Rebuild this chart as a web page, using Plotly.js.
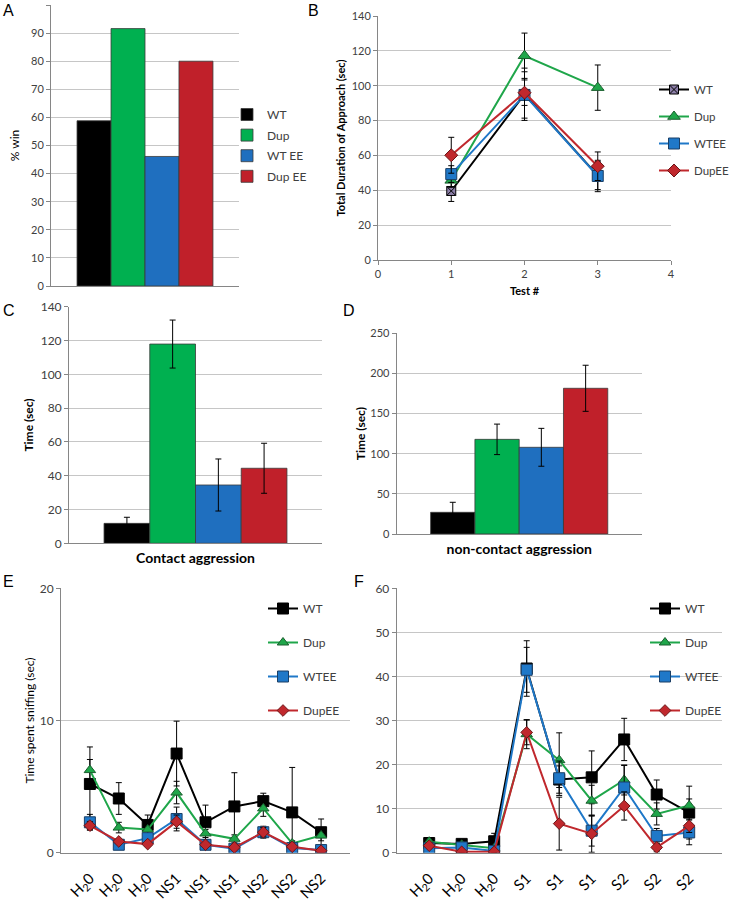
<!DOCTYPE html>
<html><head><meta charset="utf-8">
<script src="https://cdn.plot.ly/plotly-3.0.1.min.js"></script>
<style>html,body{margin:0;padding:0;background:#fff}#chart{width:730px;height:901px}</style>
</head><body><div id="chart"></div>
<script>
// ---------- DATA ----------
const seriesNames = ['WT', 'Dup', 'WTEE', 'DupEE'];
const winLabels = ['WT', 'Dup', 'WT EE', 'Dup EE'];
const winPct = [58.8, 91.6, 46.1, 80.0];

const testNum = [1, 2, 3];
const approachWT = [39.6, 95.1, 48.4];
const approachWTErr = [6.0, 15.0, 8.0];
const approachDup = [45.7, 117.2, 98.9];
const approachDupErr = [4.0, 13.0, 13.0];
const approachWTEE = [49.3, 94.7, 48.2];
const approachWTEEErr = [4.8, 13.3, 9.0];
const approachDupEE = [60.1, 96.0, 53.8];
const approachDupEEErr = [10.3, 7.3, 8.2];

const contactCat = ['Contact aggression'];
const contactMean = [11.8, 117.9, 34.5, 44.4];
const contactErr = [3.6, 14.2, 15.4, 14.8];

const noncontactCat = ['non-contact aggression'];
const noncontactMean = [27.0, 117.9, 108.0, 181.5];
const noncontactErr = [12.5, 19.0, 23.6, 28.7];

const trialIdx = [1, 2, 3, 4, 5, 6, 7, 8, 9];
const sniffLabelsE = ['H<sub>2</sub>0', 'H<sub>2</sub>0', 'H<sub>2</sub>0', 'NS1', 'NS1', 'NS1', 'NS2', 'NS2', 'NS2'];
const sniffE_WT = [5.2, 4.1, 2.1, 7.5, 2.3, 3.5, 3.9, 3.05, 1.55];
const sniffE_WTErr = [2.8, 1.2, 0.75, 2.45, 1.3, 2.55, 0.6, 3.4, 1.0];
const sniffE_Dup = [6.25, 1.9, 1.75, 4.55, 1.45, 1.05, 3.35, 0.7, 1.3];
const sniffE_DupErr = [0.8, 0.4, 0.3, 0.85, 0.3, 0.3, 0.6, 0.2, 0.4];
const sniffE_WTEE = [2.3, 0.6, 1.1, 2.55, 0.6, 0.3, 1.55, 0.35, 0.2];
const sniffE_WTEEErr = [0.6, 0.2, 0.2, 0.9, 0.2, 0.15, 0.45, 0.15, 0.1];
const sniffE_DupEE = [2.05, 0.85, 0.65, 2.35, 0.6, 0.4, 1.55, 0.45, 0.15];
const sniffE_DupEEErr = [0.3, 0.15, 0.15, 0.5, 0.15, 0.1, 0.35, 0.1, 0.1];

const sniffLabelsF = ['H<sub>2</sub>0', 'H<sub>2</sub>0', 'H<sub>2</sub>0', 'S1', 'S1', 'S1', 'S2', 'S2', 'S2'];
const sniffF_WT = [2.2, 2.0, 2.6, 41.8, 16.6, 17.1, 25.7, 13.2, 9.1];
const sniffF_WTErr = [0.7, 0.4, 1.8, 6.3, 3.1, 6.0, 4.8, 3.3, 6.0];
const sniffF_Dup = [2.5, 1.8, 1.0, 26.9, 21.0, 11.8, 16.5, 8.8, 10.7];
const sniffF_DupErr = [0.7, 0.3, 0.3, 3.3, 6.2, 3.5, 3.4, 2.5, 1.5];
const sniffF_WTEE = [1.0, 1.2, 0.4, 41.5, 16.9, 5.0, 14.8, 3.8, 4.6];
const sniffF_WTEEErr = [0.3, 0.3, 0.2, 5.1, 3.9, 3.5, 5.0, 1.7, 2.8];
const sniffF_DupEE = [1.6, 0.2, 0.2, 27.3, 6.6, 4.3, 10.6, 1.2, 6.1];
const sniffF_DupEEErr = [0.5, 0.2, 0.2, 2.8, 6.0, 4.2, 3.2, 1.0, 1.5];

// ---------- STYLE ----------
const FONT = 'Lato, "Liberation Sans", sans-serif';
const TXT = '#404040';
const barColors = ['#000000', '#00B050', '#1F6FBF', '#C0202A'];
const lineColors = ['#000000', '#1FA64A', '#1F78C8', '#C0282D'];
const W = 730, H = 901;
const dx = (a, b) => [a / W, b / W];
const dy = (t, b) => [1 - b / H, 1 - t / H];

const traces = [];
// Panel A
winPct.forEach((v, i) => traces.push({
  type: 'bar', x: ['A'], y: [v], name: winLabels[i], xaxis: 'x', yaxis: 'y', legend: 'legend',
  legendgroup: 'a' + i,
  marker: {color: barColors[i], line: {color: '#3a3a3a', width: 0.8}}
}));
// Panel B
const bSets = [[approachWT, approachWTErr], [approachDup, approachDupErr], [approachWTEE, approachWTEEErr], [approachDupEE, approachDupEEErr]];
const bMarkers = [
  {symbol: 'square-x', size: 9, color: '#8c7fa8', line: {color: '#000', width: 1}},
  {symbol: 'triangle-up', size: 11, color: '#1FA64A', line: {color: '#1b5e2e', width: 1}},
  {symbol: 'square', size: 11, color: '#1F78C8', line: {color: '#1b3f66', width: 1}},
  {symbol: 'diamond', size: 10, color: '#C0282D', line: {color: '#6b1416', width: 1}}
];
bSets.forEach((s, i) => traces.push({
  type: 'scatter', mode: 'lines+markers', x: testNum, y: s[0], name: seriesNames[i],
  xaxis: 'x2', yaxis: 'y2', legend: 'legend2', legendgroup: 'b' + i,
  line: {color: lineColors[i], width: 2}, marker: bMarkers[i],
  error_y: {type: 'data', array: s[1], visible: true, color: '#000', thickness: 1, width: 3}
}));
// Panel C
contactMean.forEach((v, i) => traces.push({
  type: 'bar', x: contactCat, y: [v], name: seriesNames[i], xaxis: 'x3', yaxis: 'y3', showlegend: false,
  marker: {color: barColors[i], line: {color: '#3a3a3a', width: 0.8}},
  error_y: {type: 'data', array: [contactErr[i]], visible: true, color: '#000', thickness: 1, width: 3}
}));
// Panel D
noncontactMean.forEach((v, i) => traces.push({
  type: 'bar', x: noncontactCat, y: [v], name: seriesNames[i], xaxis: 'x4', yaxis: 'y4', showlegend: false,
  marker: {color: barColors[i], line: {color: '#3a3a3a', width: 0.8}},
  error_y: {type: 'data', array: [noncontactErr[i]], visible: true, color: '#000', thickness: 1, width: 3}
}));
// Panels E, F
const efMarkers = [
  {symbol: 'square', size: 11, color: '#000', line: {color: '#000', width: 1}},
  {symbol: 'triangle-up', size: 10, color: '#1FA64A', line: {color: '#1b5e2e', width: 1}},
  {symbol: 'square', size: 11, color: '#1F78C8', line: {color: '#1b3f66', width: 1}},
  {symbol: 'diamond', size: 9, color: '#C0282D', line: {color: '#6b1416', width: 1}}
];
const eSets = [[sniffE_WT, sniffE_WTErr], [sniffE_Dup, sniffE_DupErr], [sniffE_WTEE, sniffE_WTEEErr], [sniffE_DupEE, sniffE_DupEEErr]];
const fSets = [[sniffF_WT, sniffF_WTErr], [sniffF_Dup, sniffF_DupErr], [sniffF_WTEE, sniffF_WTEEErr], [sniffF_DupEE, sniffF_DupEEErr]];
eSets.forEach((s, i) => traces.push({
  type: 'scatter', mode: 'lines+markers', x: trialIdx, y: s[0], name: seriesNames[i],
  xaxis: 'x5', yaxis: 'y5', legend: 'legend3', legendgroup: 'e' + i,
  line: {color: lineColors[i], width: 2}, marker: efMarkers[i],
  error_y: {type: 'data', array: s[1], visible: true, color: '#000', thickness: 1, width: 3}
}));
fSets.forEach((s, i) => traces.push({
  type: 'scatter', mode: 'lines+markers', x: trialIdx, y: s[0], name: seriesNames[i],
  xaxis: 'x6', yaxis: 'y6', legend: 'legend4', legendgroup: 'f' + i,
  line: {color: lineColors[i], width: 2}, marker: efMarkers[i],
  error_y: {type: 'data', array: s[1], visible: true, color: '#000', thickness: 1, width: 3}
}));

const yBase = (extra) => Object.assign({
  showline: true, linecolor: '#868686', linewidth: 1, showgrid: true, gridcolor: '#C6C6C6', gridwidth: 1,
  ticks: 'outside', ticklen: 4, tickcolor: '#868686', zeroline: false,
  tickfont: {family: FONT, size: 12, color: TXT}, fixedrange: true
}, extra);
const xBase = (extra) => Object.assign({
  showline: true, linecolor: '#868686', linewidth: 1, showgrid: false, zeroline: false,
  tickfont: {family: FONT, size: 12, color: TXT}, fixedrange: true
}, extra);
const legBase = (x, y, gap, size) => ({
  x: x / W, y: 1 - y / H, xanchor: 'left', yanchor: 'top', bgcolor: 'rgba(0,0,0,0)',
  traceorder: 'grouped', tracegroupgap: gap, font: {family: FONT, size: size, color: TXT}, itemwidth: 30
});

const layout = {
  width: W, height: H, autosize: false, margin: {l: 0, r: 0, t: 0, b: 0, autoexpand: false},
  paper_bgcolor: '#fff', plot_bgcolor: '#fff', font: {family: FONT, color: TXT},
  barmode: 'group', showlegend: true,
  // A
  xaxis: xBase({domain: dx(51, 239), anchor: 'y', showticklabels: false}),
  yaxis: yBase({domain: dy(5, 286), anchor: 'x', range: [0, 100], dtick: 10,
    tickvals: [0,10,20,30,40,50,60,70,80,90,100], ticktext: ['0','10','20','30','40','50','60','70','80','90','00'],
    tickfont: {family: FONT, size: 11, color: TXT},
    title: {text: '% win', font: {family: FONT, size: 12, color: '#000'}, standoff: 8}}),
  // B
  xaxis2: xBase({domain: dx(378, 671), anchor: 'y2', range: [0, 4], dtick: 1, ticks: 'outside', ticklen: 4, tickcolor: '#868686',
    tickfont: {family: FONT, size: 11, color: TXT},
    title: {text: 'Test #', font: {family: FONT, size: 11, color: '#000', weight: 'bold'}, standoff: 8}}),
  yaxis2: yBase({domain: dy(16, 260), anchor: 'x2', range: [0, 140], dtick: 20,
    tickfont: {family: FONT, size: 11, color: TXT},
    title: {text: 'Total Duration of Approach (sec)', font: {family: FONT, size: 11, color: '#000', weight: 'bold'}, standoff: 3}}),
  // C
  xaxis3: xBase({domain: dx(69, 322), anchor: 'y3', tickfont: {family: FONT, size: 14, color: '#000', weight: 'bold'}, ticks: 'outside', ticklen: 2, tickcolor: 'rgba(0,0,0,0)'}),
  yaxis3: yBase({domain: dy(306.7, 543.3), anchor: 'x3', range: [0, 140], dtick: 20,
    tickfont: {family: FONT, size: 12, color: TXT},
    title: {text: 'Time (sec)', font: {family: FONT, size: 12, color: '#000', weight: 'bold'}, standoff: 4}}),
  // D
  xaxis4: xBase({domain: dx(396.7, 641.7), anchor: 'y4', tickfont: {family: FONT, size: 14, color: '#000', weight: 'bold'}, ticks: 'outside', ticklen: 2, tickcolor: 'rgba(0,0,0,0)'}),
  yaxis4: yBase({domain: dy(333.3, 534), anchor: 'x4', range: [0, 250], dtick: 50,
    tickfont: {family: FONT, size: 11, color: TXT},
    title: {text: 'Time (sec)', font: {family: FONT, size: 12, color: '#000', weight: 'bold'}, standoff: 2}}),
  // E
  xaxis5: xBase({domain: dx(61, 350), anchor: 'y5', range: [0, 10], tickvals: trialIdx, ticktext: sniffLabelsE,
    tickangle: -45, tickfont: {family: FONT, size: 15, color: '#000'}, ticks: 'outside', ticklen: 10, tickcolor: 'rgba(0,0,0,0)'}),
  yaxis5: yBase({domain: dy(588.3, 852.7), anchor: 'x5', range: [0, 20], dtick: 10,
    tickfont: {family: FONT, size: 12, color: TXT},
    title: {text: 'Time spent sniffing (sec)', font: {family: FONT, size: 12, color: '#000'}, standoff: 2}}),
  // F
  xaxis6: xBase({domain: dx(396.7, 721.7), anchor: 'y6', range: [0, 10], tickvals: trialIdx, ticktext: sniffLabelsF,
    tickangle: -45, tickfont: {family: FONT, size: 15, color: '#000'}, ticks: 'outside', ticklen: 10, tickcolor: 'rgba(0,0,0,0)'}),
  yaxis6: yBase({domain: dy(588.3, 852.7), anchor: 'x6', range: [0, 60], dtick: 10,
    tickfont: {family: FONT, size: 12, color: TXT}}),
  legend: legBase(227, 100, 1.6, 12),
  legend2: legBase(654, 75, 8, 11.5),
  legend3: legBase(263, 594, 15, 12),
  legend4: legBase(645, 594, 15, 12),
  bargap: 0.277,
  annotations: [
    ['A', 1, 0], ['B', 306, 0], ['C', 1, 300], ['D', 341, 300], ['E', 1, 571], ['F', 352, 571]
  ].map(a => ({text: a[0], x: a[1] / W, y: 1 - a[2] / H, xref: 'paper', yref: 'paper', xanchor: 'left', yanchor: 'top',
    showarrow: false, font: {family: '"Liberation Sans", Arial, sans-serif', size: 16, color: '#000'}}))
};

Plotly.newPlot('chart', traces, layout, {staticPlot: true, displayModeBar: false});
</script></body></html>
